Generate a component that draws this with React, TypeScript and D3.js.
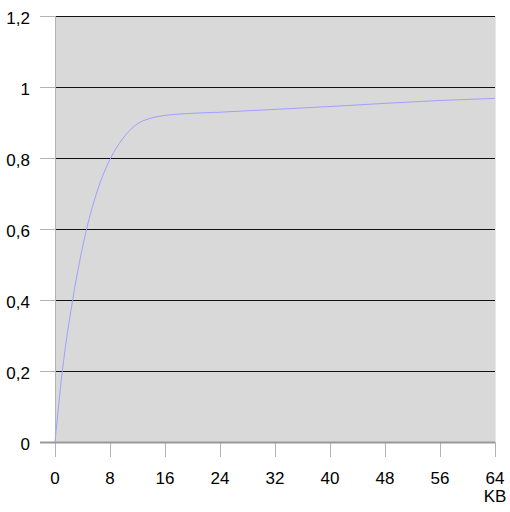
import React, { useEffect, useRef } from "react";
import * as d3 from "d3";

const kb = [0, 1.07, 2.57, 4.6, 6.2, 8.1, 9.7, 10.7, 11.6, 12.4, 13.1, 14.5, 16, 19, 24, 32, 40, 48, 56, 64];
const ratio = [0, 0.2, 0.4, 0.6, 0.71, 0.8, 0.851, 0.874, 0.891, 0.901, 0.907, 0.915, 0.92, 0.925, 0.929, 0.937, 0.945, 0.954, 0.962, 0.968];
const xTicks = [0, 8, 16, 24, 32, 40, 48, 56, 64];
const yTicks = [0, 0.2, 0.4, 0.6, 0.8, 1, 1.2];
const xUnit = "KB";

const W = 510, H = 512;
const L = 55, R = 495, T = 16, B = 442;

export default function App() {
  const ref = useRef<SVGSVGElement>(null);
  useEffect(() => {
    const svg = d3.select(ref.current);
    svg.selectAll("*").remove();
    const x = d3.scaleLinear().domain([0, 64]).range([L, R]);
    const y = d3.scaleLinear().domain([0, 1.2]).range([B, T]);
    const font = "'Liberation Sans', Arial, sans-serif";

    svg.append("rect").attr("x", L).attr("y", T).attr("width", R - L).attr("height", B - T).attr("fill", "#d9d9d9");
    svg.append("line").attr("x1", R + 0.5).attr("x2", R + 0.5).attr("y1", T).attr("y2", B).attr("stroke", "#e6e6e6").attr("stroke-width", 1);

    // gridlines
    yTicks.filter(v => v > 0).forEach(v => {
      const yy = Math.round(y(v)) + 0.5;
      svg.append("line").attr("x1", L).attr("x2", R).attr("y1", yy).attr("y2", yy).attr("stroke", "#111").attr("stroke-width", 1);
    });

    // y tick marks and labels
    yTicks.forEach(v => {
      const yy = Math.round(y(v)) + 0.5;
      svg.append("line").attr("x1", 40).attr("x2", L).attr("y1", yy).attr("y2", yy).attr("stroke", "#b3b3b3").attr("stroke-width", 1);
      svg.append("text").attr("x", 30).attr("y", yy + 1.5).attr("text-anchor", "end").attr("dominant-baseline", "central")
        .attr("font-family", font).attr("font-size", 17).attr("fill", "#000").text(String(v).replace(".", ","));
    });

    // x tick marks and labels
    xTicks.forEach(v => {
      const xx = Math.round(x(v)) + 0.5;
      svg.append("line").attr("x1", xx).attr("x2", xx).attr("y1", B).attr("y2", 457).attr("stroke", "#b3b3b3").attr("stroke-width", 1);
      svg.append("text").attr("x", x(v)).attr("y", 484).attr("text-anchor", "middle")
        .attr("font-family", font).attr("font-size", 17).attr("fill", "#000").text(String(v));
    });
    svg.append("text").attr("x", x(64)).attr("y", 502).attr("text-anchor", "middle")
      .attr("font-family", font).attr("font-size", 17).attr("fill", "#000").text(xUnit);

    // axes
    svg.append("line").attr("x1", L + 0.5).attr("x2", L + 0.5).attr("y1", T).attr("y2", B).attr("stroke", "#b3b3b3").attr("stroke-width", 1);
    svg.append("line").attr("x1", 40).attr("x2", R).attr("y1", B + 0.5).attr("y2", B + 0.5).attr("stroke", "#999").attr("stroke-width", 2);

    const data = kb.map((k, i) => [k, ratio[i]] as [number, number]);
    const line = d3.line<[number, number]>().x(d => x(d[0])).y(d => y(d[1])).curve(d3.curveMonotoneX);
    svg.append("path").attr("d", line(data)!).attr("fill", "none").attr("stroke", "#a0a0ff").attr("stroke-width", 1);
  }, []);
  return (
    <svg ref={ref} width={W} height={H} style={{ position: "absolute", left: 0, top: 0, background: "#fff" }} />
  );
}
